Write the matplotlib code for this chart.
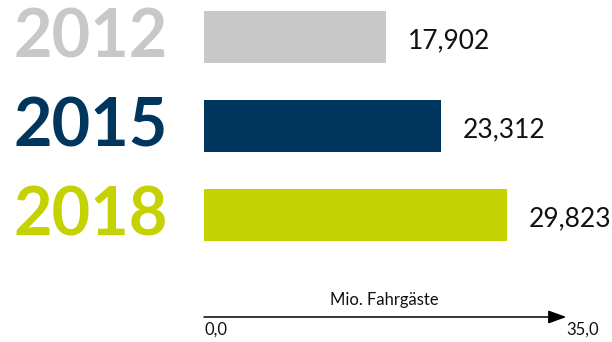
import matplotlib
matplotlib.use("Agg")
import matplotlib.pyplot as plt

years = ["2012", "2015", "2018"]
passengers = [17.902, 23.312, 29.823]   # Mio. Fahrgäste
colors = ["#c8c8c8", "#00365e", "#c3d200"]
axis_label = "Mio. Fahrgäste"
axis_min, axis_max = 0.0, 35.0

def de(v, nd):
    return f"{v:.{nd}f}".replace(".", ",")

plt.rcParams["font.family"] = ["Lato", "DejaVu Sans"]

fig = plt.figure(figsize=(6.12, 3.42), dpi=100)
ax = fig.add_axes([0, 0, 1, 1])
ax.axis("off")

# x: 0 sits 204 px from the left, ~10.15 px per unit; y: bars 89 px apart
ax.set_xlim(-204 / 10.15, (612 - 204) / 10.15)
ax.set_ylim((342 - 37) / 89, -37 / 89)

ypos = list(range(len(years)))
ax.barh(ypos, passengers, height=0.59, color=colors, left=0)

for y, yr, v, c in zip(ypos, years, passengers, colors):
    ax.text(0.022, y + 0.02, yr, transform=ax.get_yaxis_transform(),
            fontsize=48, fontweight="bold", color=c, ha="left", va="center")
    ax.annotate(de(v, 3), (v, y), xytext=(16, -2.5), textcoords="offset points",
                fontsize=19, color="#111111", ha="left", va="center")

# axis arrow at the bottom
ya = 3.146
ax.annotate("", xy=(axis_max + 0.7, ya), xytext=(axis_min, ya),
            arrowprops=dict(arrowstyle="-|>,head_length=1.1,head_width=0.4",
                            color="black", lw=1.1, shrinkA=0, shrinkB=0))
ax.text((axis_max + axis_min) / 2 + 0.3, 2.95, axis_label, fontsize=12,
        ha="center", va="center", color="#111111")
ax.text(axis_min, 3.29, de(axis_min, 1), fontsize=12, ha="left", va="center",
        color="#111111")
ax.text(axis_max + 3.9, 3.29, de(axis_max, 1), fontsize=12, ha="right",
        va="center", color="#111111")

fig.savefig("out.png", dpi=100)
